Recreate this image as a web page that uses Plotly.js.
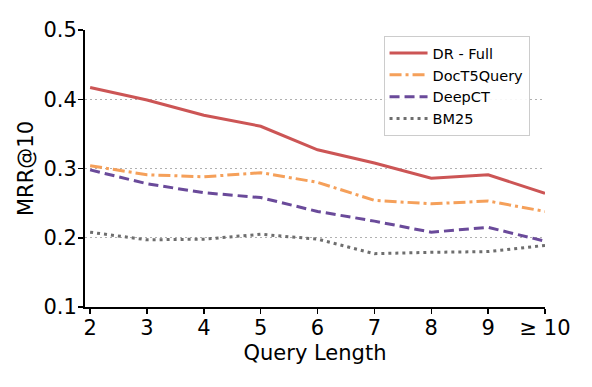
<!DOCTYPE html>
<html>
<head>
<meta charset="utf-8">
<script src="https://cdn.plot.ly/plotly-3.0.1.min.js"></script>
<style>
  body { margin: 0; background: #fff; }
  #chart1 { width: 592px; height: 387px; }
</style>
</head>
<body>
<div id="chart1"></div>
<script>
// query length buckets
var queryLen = [2, 3, 4, 5, 6, 7, 8, 9, 10]
var tickText = ["2", "3", "4", "5", "6", "7", "8", "9", "\u2265 10"]

// MRR@10 per model
var drFull = [0.417, 0.399, 0.377, 0.361, 0.327, 0.308, 0.286, 0.291, 0.264]
var docT5 = [0.304, 0.291, 0.288, 0.294, 0.280, 0.254, 0.249, 0.253, 0.238]
var deepCT = [0.298, 0.278, 0.265, 0.258, 0.238, 0.224, 0.208, 0.215, 0.195]
var bm25 = [0.208, 0.197, 0.198, 0.205, 0.198, 0.177, 0.179, 0.180, 0.189]

var names = ["DR - Full", "DocT5Query", "DeepCT", "BM25"]
var colors = ["#cc5555", "#f5a05a", "#6a4a9a", "#6e6e6e"]
var dashes = ["solid", "12px,4px,3px,4px", "10px,5px", "3px,4px"]

window.onload = function(){
    var series = [drFull, docT5, deepCT, bm25]
    var traces = []
    for (let i=0; i<series.length; i++){
        traces.push({
            x: queryLen,
            y: series[i],
            name: names[i],
            type: 'scatter',
            mode: 'lines',
            line: {color: colors[i], width: 3, dash: dashes[i]}
        })
    }

    Plotly.newPlot("chart1", traces, {
        width: 592,
        height: 387,
        margin: {l: 85, r: 47, t: 30, b: 80},
        paper_bgcolor: '#fff',
        plot_bgcolor: '#fff',
        font: {family: 'DejaVu Sans', color: '#000', size: 21},
        showlegend: true,
        legend: {
            x: 0.649, y: 0.978, xanchor: 'left', yanchor: 'top',
            bgcolor: 'rgba(255,255,255,0.9)',
            bordercolor: '#cccccc', borderwidth: 1,
            font: {size: 14.5},
            itemwidth: 38,
            tracegroupgap: 0
        },
        xaxis: {
            title: {text: 'Query Length', font: {size: 21}, standoff: 6},
            range: [1.91, 10],
            tickvals: queryLen,
            ticktext: tickText,
            ticklabelstandoff: -4,
            showgrid: false,
            zeroline: false,
            showline: true,
            linecolor: '#000',
            linewidth: 2,
            ticks: 'outside',
            ticklen: 5,
            tickwidth: 1.5,
            tickcolor: '#000'
        },
        yaxis: {
            title: {text: 'MRR@10', font: {size: 21}, standoff: 4},
            range: [0.1, 0.5],
            tickvals: [0.1, 0.2, 0.3, 0.4, 0.5],
            ticktext: ["0.1", "0.2", "0.3", "0.4", "0.5"],
            ticklabelstandoff: -3,
            showgrid: true,
            gridcolor: '#b0b0b0',
            griddash: '2px,3px',
            gridwidth: 1,
            zeroline: false,
            showline: true,
            linecolor: '#000',
            linewidth: 2,
            ticks: 'outside',
            ticklen: 5,
            tickwidth: 1.5,
            tickcolor: '#000'
        }
    }, {displayModeBar: false, staticPlot: true})
}
</script>
</body>
</html>
